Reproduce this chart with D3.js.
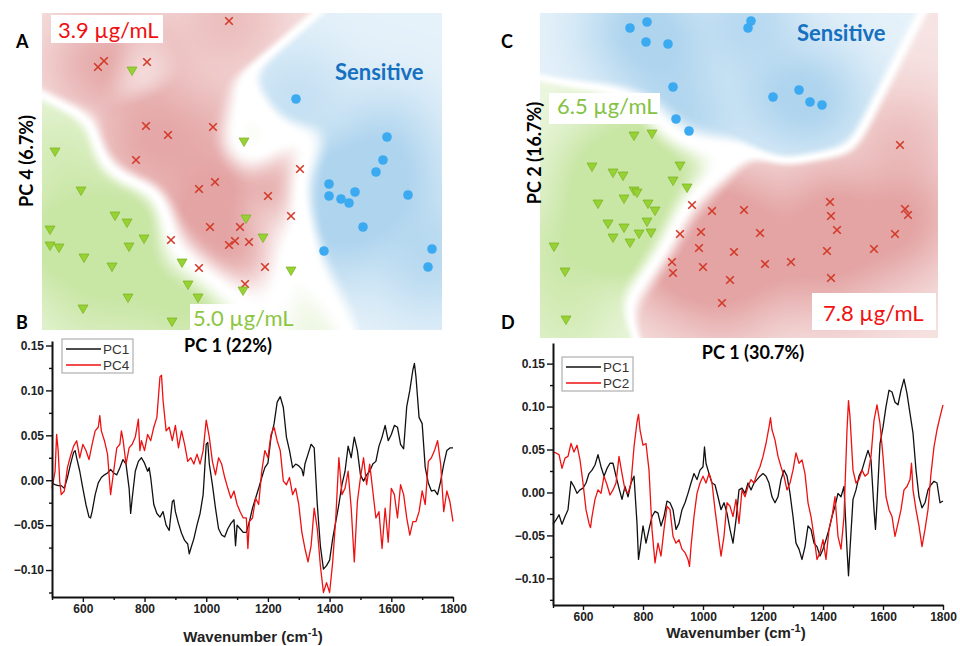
<!DOCTYPE html>
<html>
<head>
<meta charset="utf-8">
<script src="https://cdn.jsdelivr.net/npm/d3@7"></script>
<style>
  body { margin: 0; background: #fff; }
  svg  { display: block; }
</style>
</head>
<body>
<div id="chart"></div>
<script>
// ---- PCA score plots (arbitrary score units) ----
// panel A: PC1 vs PC4
const A_RES_39  = [[187,309],[56,263],[62,269],[105,268],[104,204],[171,203],[126,195],[94,170],[258,161],[157,141],[173,148],[226,134],[249,114],[168,103],[198,103],[129,90],[187,85],[193,89],[207,88],[157,62],[223,63],[203,46]];
const A_RES_50  = [[90,259],[202,188],[13,178],[39,139],[73,114],[85,107],[8,100],[8,84],[17,82],[87,83],[102,91],[204,111],[221,92],[42,72],[70,63],[140,67],[249,59],[146,45],[156,32],[201,39],[86,32],[41,21],[130,8]];
const A_SENS    = [[254,231],[345,193],[341,170],[334,158],[287,146],[287,134],[299,131],[307,127],[313,138],[366,135],[321,103],[282,79],[390,81],[386,63]];
// panel C: PC1 vs PC2
const C_SENS    = [[90,310],[107,316],[106,296],[128,294],[211,317],[208,310],[133,251],[136,219],[149,207],[233,241],[259,248],[270,236],[282,233]];
const C_RES_65  = [[94,202],[112,204],[52,171],[73,165],[83,162],[140,172],[133,157],[147,150],[94,147],[97,145],[84,139],[58,134],[108,134],[115,127],[68,114],[84,110],[107,116],[111,105],[73,100],[99,104],[90,95],[14,91],[25,66],[26,18]];
const C_RES_78  = [[360,193],[152,133],[172,127],[204,128],[290,136],[291,122],[365,129],[368,123],[140,104],[161,106],[220,105],[297,108],[355,104],[159,90],[194,86],[287,87],[334,89],[132,76],[133,65],[163,71],[225,74],[251,76],[291,60],[190,58],[182,35]];

// ---- loading spectra [wavenumber, loading] ----
const B_PC1 = [[500,-0.003],[510,-0.005],[520,-0.006],[530,-0.006],[540,-0.009],[550,0.003],[560,0.018],[570,0.031],[575,0.033],[580,0.025],[590,0.010],[600,-0.009],[610,-0.027],[620,-0.041],[625,-0.042],[630,-0.035],[640,-0.016],[650,-0.003],[660,0.003],[670,0.006],[680,0.008],[690,0.012],[700,0.008],[710,0.006],[720,0.014],[730,0.023],[740,0.018],[750,-0.009],[755,-0.037],[760,-0.020],[770,0.010],[780,0.021],[790,0.025],[800,0.019],[810,0.010],[815,0.014],[820,0.003],[830,-0.027],[840,-0.037],[850,-0.041],[860,-0.035],[870,-0.050],[880,-0.056],[890,-0.024],[895,-0.022],[900,-0.035],[910,-0.048],[920,-0.059],[930,-0.067],[940,-0.071],[945,-0.082],[950,-0.076],[960,-0.065],[970,-0.050],[980,-0.037],[990,-0.016],[1000,0.040],[1005,0.042],[1010,0.018],[1020,-0.005],[1030,-0.031],[1040,-0.054],[1050,-0.061],[1060,-0.063],[1070,-0.054],[1080,-0.048],[1090,-0.044],[1095,-0.073],[1100,-0.050],[1110,-0.054],[1120,-0.058],[1130,-0.058],[1140,-0.046],[1150,-0.031],[1160,-0.020],[1170,-0.009],[1180,0.003],[1190,0.014],[1200,0.019],[1210,0.048],[1220,0.063],[1230,0.087],[1240,0.093],[1250,0.081],[1260,0.048],[1270,0.033],[1280,0.014],[1290,0.018],[1300,0.016],[1310,0.012],[1315,0.005],[1320,0.018],[1330,0.029],[1340,0.040],[1350,0.036],[1360,-0.027],[1370,-0.073],[1380,-0.099],[1390,-0.095],[1400,-0.089],[1410,-0.065],[1420,-0.046],[1430,-0.027],[1440,-0.005],[1450,0.010],[1460,0.038],[1470,0.025],[1480,0.048],[1490,0.033],[1500,0.006],[1510,-0.001],[1520,0.006],[1530,0.010],[1540,0.018],[1550,0.021],[1560,0.038],[1570,0.048],[1580,0.061],[1590,0.044],[1600,0.051],[1610,0.061],[1620,0.059],[1630,0.040],[1640,0.035],[1650,0.082],[1660,0.100],[1670,0.123],[1675,0.130],[1680,0.115],[1690,0.070],[1700,0.063],[1710,0.014],[1720,-0.003],[1730,-0.012],[1740,-0.011],[1750,-0.016],[1760,-0.001],[1770,0.018],[1780,0.033],[1790,0.036],[1800,0.036]];
const B_PC4 = [[500,-0.009],[510,0.010],[515,0.051],[520,0.033],[525,-0.001],[530,-0.016],[540,-0.012],[550,0.014],[560,0.027],[570,0.038],[580,0.044],[590,0.025],[600,0.040],[610,0.033],[620,0.023],[630,0.040],[640,0.055],[650,0.059],[655,0.072],[660,0.055],[670,0.044],[680,0.029],[690,-0.016],[700,0.010],[710,0.036],[720,0.040],[725,0.055],[730,0.046],[740,0.018],[750,0.036],[760,0.040],[770,0.048],[780,0.068],[785,0.033],[790,0.044],[800,0.033],[810,0.051],[820,0.044],[830,0.059],[840,0.070],[850,0.115],[855,0.117],[860,0.089],[870,0.055],[880,0.059],[890,0.044],[900,0.061],[910,0.036],[920,0.055],[930,0.040],[940,0.021],[950,0.025],[960,0.018],[970,0.029],[980,0.018],[990,0.033],[1000,0.067],[1010,0.048],[1020,0.021],[1030,0.006],[1040,0.025],[1050,0.018],[1060,0.003],[1070,-0.009],[1080,-0.020],[1090,-0.012],[1100,-0.027],[1110,-0.035],[1120,-0.042],[1130,-0.042],[1135,-0.076],[1140,-0.046],[1150,-0.042],[1160,-0.020],[1170,-0.027],[1180,0.010],[1190,0.033],[1200,0.025],[1210,0.051],[1220,0.059],[1230,0.044],[1240,0.033],[1250,-0.001],[1260,-0.005],[1270,0.003],[1280,-0.016],[1290,-0.009],[1300,-0.027],[1310,-0.058],[1320,-0.076],[1330,-0.091],[1340,-0.073],[1350,-0.031],[1360,-0.054],[1370,-0.095],[1380,-0.125],[1390,-0.114],[1400,-0.125],[1410,-0.091],[1420,-0.042],[1430,0.025],[1440,-0.016],[1450,-0.009],[1460,0.010],[1470,-0.031],[1480,-0.091],[1490,-0.024],[1500,0.003],[1510,0.025],[1520,-0.005],[1530,0.018],[1540,-0.012],[1550,-0.042],[1560,-0.035],[1570,-0.076],[1580,-0.031],[1590,-0.069],[1600,-0.009],[1610,-0.016],[1620,-0.042],[1630,-0.005],[1640,-0.016],[1650,-0.042],[1660,-0.061],[1670,-0.046],[1680,-0.046],[1690,-0.035],[1700,-0.012],[1710,-0.027],[1720,0.021],[1730,0.025],[1740,0.033],[1750,0.044],[1760,0.018],[1770,-0.035],[1780,-0.012],[1790,-0.024],[1800,-0.046]];
const D_PC1 = [[500,-0.037],[510,-0.032],[520,-0.026],[530,-0.037],[540,-0.028],[550,-0.020],[560,0.013],[570,0.007],[580,-0.001],[590,0.003],[600,0.005],[610,0.011],[620,0.022],[630,0.026],[640,0.032],[650,0.044],[660,0.030],[670,0.019],[680,0.028],[690,0.034],[700,0.034],[710,0.019],[720,0.005],[730,-0.008],[740,0.007],[750,-0.005],[760,0.011],[770,0.019],[780,-0.036],[785,-0.078],[790,-0.066],[800,-0.039],[810,-0.059],[820,-0.043],[830,-0.028],[840,-0.022],[850,-0.024],[860,-0.039],[870,-0.028],[880,-0.010],[890,-0.012],[900,-0.020],[910,-0.043],[920,-0.036],[930,-0.020],[940,-0.012],[950,-0.001],[960,0.011],[970,0.022],[980,0.015],[990,0.026],[1000,0.030],[1005,0.053],[1010,0.034],[1020,0.022],[1030,0.011],[1040,0.009],[1050,-0.005],[1060,-0.020],[1070,-0.012],[1080,-0.024],[1090,-0.043],[1100,-0.059],[1110,-0.032],[1120,0.003],[1130,0.005],[1140,-0.001],[1150,0.011],[1160,0.003],[1170,0.011],[1180,0.015],[1190,0.019],[1200,0.022],[1210,0.019],[1220,0.011],[1230,-0.005],[1240,-0.012],[1250,-0.005],[1260,0.015],[1270,0.026],[1280,0.019],[1290,-0.001],[1300,-0.028],[1310,-0.059],[1320,-0.066],[1330,-0.078],[1340,-0.063],[1350,-0.039],[1360,-0.043],[1370,-0.059],[1380,-0.063],[1390,-0.074],[1400,-0.066],[1410,-0.055],[1420,-0.043],[1430,-0.028],[1440,-0.016],[1450,-0.001],[1460,-0.005],[1470,0.007],[1480,-0.066],[1485,-0.097],[1490,-0.066],[1500,-0.008],[1510,0.003],[1520,0.019],[1530,0.026],[1540,0.038],[1550,0.049],[1560,0.038],[1570,-0.020],[1575,-0.043],[1580,-0.012],[1590,0.057],[1600,0.076],[1610,0.100],[1620,0.119],[1630,0.117],[1640,0.105],[1650,0.102],[1660,0.119],[1670,0.132],[1680,0.115],[1690,0.092],[1700,0.069],[1710,0.026],[1720,-0.005],[1730,-0.018],[1740,-0.012],[1750,0.003],[1760,0.009],[1770,0.013],[1780,0.011],[1790,-0.012],[1800,-0.010]];
const D_PC2 = [[500,0.047],[510,0.046],[520,0.044],[530,0.028],[540,0.040],[550,0.042],[560,0.057],[570,0.047],[580,0.055],[590,0.038],[600,0.011],[610,-0.020],[620,-0.036],[625,-0.041],[630,-0.028],[640,-0.008],[650,0.003],[660,-0.001],[670,0.019],[680,0.009],[690,-0.003],[700,0.003],[710,0.011],[720,0.042],[730,0.022],[740,0.003],[750,-0.001],[760,0.011],[770,0.053],[780,0.082],[785,0.091],[790,0.073],[800,0.055],[810,0.057],[820,0.026],[830,-0.043],[840,-0.082],[850,-0.059],[860,-0.074],[870,-0.043],[880,-0.016],[890,-0.020],[900,-0.051],[910,-0.059],[920,-0.055],[930,-0.066],[940,-0.070],[950,-0.078],[955,-0.086],[960,-0.063],[970,-0.028],[980,-0.001],[990,0.011],[1000,0.019],[1010,0.011],[1020,0.022],[1030,0.011],[1040,-0.020],[1050,-0.047],[1060,-0.074],[1070,-0.051],[1080,-0.012],[1090,-0.016],[1100,-0.028],[1110,-0.008],[1120,-0.036],[1130,0.003],[1140,-0.005],[1150,0.007],[1160,0.015],[1170,0.011],[1180,0.022],[1190,0.030],[1200,0.042],[1210,0.057],[1220,0.076],[1225,0.087],[1230,0.073],[1240,0.061],[1250,0.042],[1260,0.030],[1270,0.019],[1280,0.003],[1290,0.011],[1300,0.026],[1310,0.046],[1320,0.034],[1330,0.038],[1340,0.022],[1350,-0.012],[1360,-0.028],[1370,-0.051],[1380,-0.078],[1390,-0.070],[1400,-0.055],[1410,-0.078],[1420,-0.043],[1430,-0.028],[1440,-0.005],[1450,-0.051],[1460,-0.066],[1470,-0.028],[1480,0.073],[1485,0.107],[1490,0.088],[1500,0.026],[1510,0.011],[1520,0.015],[1530,0.026],[1540,0.019],[1550,0.022],[1560,0.042],[1570,0.084],[1580,0.102],[1590,0.080],[1600,0.042],[1610,-0.005],[1620,-0.020],[1630,-0.028],[1640,-0.051],[1650,-0.036],[1660,-0.020],[1670,0.003],[1680,0.007],[1690,0.015],[1695,0.034],[1700,0.003],[1710,-0.020],[1720,-0.039],[1730,-0.063],[1740,-0.043],[1750,-0.020],[1760,0.022],[1770,0.053],[1780,0.073],[1790,0.088],[1800,0.102]];

const X_TICKS       = [600, 800, 1000, 1200, 1400, 1600, 1800];
const X_MINOR       = [500, 700, 900, 1100, 1300, 1500, 1700];
const Y_TICKS       = [-0.10, -0.05, 0.00, 0.05, 0.10, 0.15];
const Y_MINOR       = [-0.125, -0.075, -0.025, 0.025, 0.075, 0.125];

const C_RED   = [228, 164, 164];
const C_GREEN = [200, 230, 164];
const C_BLUE  = [174, 212, 238];

const FONT_LBL = 'Lato, "Open Sans", sans-serif';
const FONT_AX  = '"Liberation Sans", Arial, sans-serif';

const svg = d3.select('#chart').append('svg')
    .attr('width', 960).attr('height', 646)
    .style('background', '#fff');

// ---------------- score plots ----------------
function scorePlot(cfg) {
    const w = cfg.box[2], h = cfg.box[3];
    const g = svg.append('g').attr('transform', `translate(${cfg.box[0]},${cfg.box[1]})`);
    const x = d3.scaleLinear().domain(cfg.xDomain).range([0, w]);
    const y = d3.scaleLinear().domain(cfg.yDomain).range([h, 0]);

    drawRegions(g, cfg.groups, x, y, w, h);

    cfg.groups.forEach(gr => {
        const sel = g.append('g').selectAll('g').data(gr.data).enter().append('g')
            .attr('transform', d => `translate(${x(d[0])},${y(d[1])})`);
        if (gr.shape === 'cross') {
            sel.append('path').attr('d', 'M-3.8,-3.8L3.8,3.8M3.8,-3.8L-3.8,3.8')
                .attr('stroke', '#d23a2a').attr('stroke-width', 1.6).attr('fill', 'none');
        } else if (gr.shape === 'tri') {
            sel.append('path').attr('d', 'M-5,-4L5,-4L0,4.6Z')
                .attr('fill', '#97d234').attr('stroke', '#79b020').attr('stroke-width', 0.7);
        } else {
            sel.append('circle').attr('r', 4.8).attr('fill', '#3caaf0');
        }
    });
    return g;
}

// soft class map: kernel-weighted class share sets hue, local density sets depth
function drawRegions(g, groups, x, y, w, h) {
    const S  = 2;
    const cw = Math.ceil(w / S), ch = Math.ceil(h / S);
    const canvas = document.createElement('canvas');
    canvas.width = cw; canvas.height = ch;
    const ctx = canvas.getContext('2d');
    const img = ctx.createImageData(cw, ch);
    const pts = groups.map(gr => gr.data.map(d => [x(d[0]), y(d[1])]));
    const sw2 = 2 * 27 * 27, sn2 = 2 * 30 * 30;

    for (let j = 0; j < ch; j++) {
        for (let i = 0; i < cw; i++) {
            const px = i * S + S / 2, py = j * S + S / 2;
            const lse = [], dens = [];
            pts.forEach(arr => {
                const e = arr.map(p => -((p[0] - px) ** 2 + (p[1] - py) ** 2) / sw2);
                const m = d3.max(e);
                lse.push(m + Math.log(d3.sum(e, v => Math.exp(v - m))));
                dens.push(d3.sum(e, v => Math.exp(v * sw2 / sn2)));
            });
            const win = d3.maxIndex(lse);
            const p = 1 / d3.sum(lse, v => Math.exp(v - lse[win]));
            let edge = Math.max(0, Math.min(1, (p - 0.5) / 0.3));
            edge = edge * edge * (3 - 2 * edge);
            const t = edge * (0.3 + 0.7 * Math.min(1, Math.sqrt(dens[win] / 3)));
            const col = groups[win].bg;
            const k = (j * cw + i) * 4;
            img.data[k]     = 255 + (col[0] - 255) * t;
            img.data[k + 1] = 255 + (col[1] - 255) * t;
            img.data[k + 2] = 255 + (col[2] - 255) * t;
            img.data[k + 3] = 255;
        }
    }
    ctx.putImageData(img, 0, 0);
    g.append('image').attr('href', canvas.toDataURL())
        .attr('width', w).attr('height', h).attr('preserveAspectRatio', 'none');
}

function boxedLabel(txt, x, yb, color, box) {
    if (box) svg.append('rect').attr('x', box[0]).attr('y', box[1])
        .attr('width', box[2]).attr('height', box[3]).attr('fill', '#fff');
    svg.append('text').attr('x', x).attr('y', yb).attr('fill', color)
        .style('font-family', FONT_LBL).style('font-size', '22px').text(txt);
}

function text(txt, x, y, opts) {
    const t = svg.append('text').attr('x', x).attr('y', y)
        .attr('text-anchor', opts.anchor || 'start')
        .attr('fill', opts.fill || '#000')
        .style('font-family', opts.font || FONT_LBL)
        .style('font-size', opts.size + 'px')
        .style('font-weight', opts.weight || 'normal')
        .text(txt);
    if (opts.rotate) t.attr('transform', `rotate(-90,${x},${y})`);
    return t;
}

scorePlot({
    box: [42, 13, 400, 317], xDomain: [0, 400], yDomain: [0, 317],
    groups: [
        { data: A_RES_39, shape: 'cross', bg: C_RED },
        { data: A_RES_50, shape: 'tri',   bg: C_GREEN },
        { data: A_SENS,   shape: 'dot',   bg: C_BLUE }
    ]
});
scorePlot({
    box: [540, 13, 398, 325], xDomain: [0, 398], yDomain: [0, 325],
    groups: [
        { data: C_RES_78, shape: 'cross', bg: C_RED },
        { data: C_RES_65, shape: 'tri',   bg: C_GREEN },
        { data: C_SENS,   shape: 'dot',   bg: C_BLUE }
    ]
});

boxedLabel('3.9 µg/mL', 58, 38, '#f01010', [51, 15, 112, 28]);
boxedLabel('5.0 µg/mL', 193, 326, '#8cc63f', [190, 304, 87, 26]);
text('Sensitive', 335, 80, { size: 22, weight: 'bold', fill: '#1670c0' });
boxedLabel('6.5 µg/mL', 557, 114, '#84c245', [549, 93, 111, 31]);
boxedLabel('7.8 µg/mL', 823, 321, '#f01010', [812, 293, 124, 37]);
text('Sensitive', 797, 41, { size: 22, weight: 'bold', fill: '#1670c0' });

text('A', 16, 48, { size: 18, weight: 'bold' });
text('B', 16, 329, { size: 18, weight: 'bold' });
text('C', 501, 48, { size: 18, weight: 'bold' });
text('D', 501, 329, { size: 18, weight: 'bold' });

text('PC 4 (6.7%)', 33, 161, { size: 18, weight: 'bold', anchor: 'middle', rotate: true });
text('PC 2 (16.7%)', 541, 153, { size: 18, weight: 'bold', anchor: 'middle', rotate: true });

// ---------------- loading spectra ----------------
function spectrumPlot(cfg) {
    const [left, top, right, bottom] = cfg.box;
    const x = d3.scaleLinear().domain([500, 1800]).range([left, right]);
    const y = d3.scaleLinear().domain(cfg.yDomain).range([bottom, top]);
    const g = svg.append('g');

    const line = d3.line().x(d => x(d[0])).y(d => y(d[1]));
    cfg.series.forEach(s => {
        g.append('path').datum(s.data).attr('d', line)
            .attr('fill', 'none').attr('stroke', s.color).attr('stroke-width', 1.3)
            .attr('stroke-linejoin', 'round');
    });

    const yAx = g.append('g').attr('transform', `translate(${left},0)`)
        .call(d3.axisLeft(y).tickValues(Y_TICKS).tickFormat(d3.format('.2f')).tickSize(6).tickSizeOuter(0));
    g.append('g').attr('transform', `translate(${left},0)`)
        .call(d3.axisLeft(y).tickValues(Y_MINOR).tickFormat('').tickSize(3).tickSizeOuter(0))
        .select('.domain').remove();
    const xAx = g.append('g').attr('transform', `translate(0,${bottom})`)
        .call(d3.axisBottom(x).tickValues(X_TICKS).tickFormat(d3.format('d')).tickSize(5).tickSizeOuter(0));
    g.append('g').attr('transform', `translate(0,${bottom})`)
        .call(d3.axisBottom(x).tickValues(X_MINOR).tickFormat('').tickSize(3).tickSizeOuter(0))
        .select('.domain').remove();

    g.selectAll('.domain').attr('stroke', '#111').attr('stroke-width', 2);
    g.selectAll('.tick line').attr('stroke', '#111').attr('stroke-width', 1.4);
    g.selectAll('.tick text').attr('fill', '#222')
        .style('font-family', FONT_AX).style('font-size', '12px').style('font-weight', 'bold');
    yAx.selectAll('.tick text').attr('x', -8);
    xAx.selectAll('.tick text').attr('y', 7);

    const t = g.append('text').attr('x', cfg.titleX).attr('y', cfg.titleY)
        .attr('text-anchor', 'middle').attr('fill', '#222')
        .style('font-family', FONT_AX).style('font-size', '15px').style('font-weight', 'bold');
    t.append('tspan').text('Wavenumber (cm');
    t.append('tspan').attr('dy', -6).style('font-size', '11px').text('-1');
    t.append('tspan').attr('dy', 6).text(')');

    const lg = g.append('g').attr('transform', `translate(${cfg.legend[0]},${cfg.legend[1]})`);
    lg.append('rect').attr('width', 71).attr('height', 34)
        .attr('fill', '#fff').attr('stroke', '#b0b0b0').attr('stroke-width', 1.2);
    cfg.series.forEach((s, i) => {
        lg.append('line').attr('x1', 4).attr('x2', 39).attr('y1', 10 + i * 16).attr('y2', 10 + i * 16)
            .attr('stroke', s.color).attr('stroke-width', 1.6);
        lg.append('text').attr('x', 41).attr('y', 15 + i * 16).attr('fill', '#333')
            .style('font-family', FONT_AX).style('font-size', '13.5px').text(s.name);
    });
}

spectrumPlot({
    box: [52, 341, 453, 597], yDomain: [-0.13, 0.155],
    series: [{ name: 'PC1', data: B_PC1, color: '#111' }, { name: 'PC4', data: B_PC4, color: '#ee1111' }],
    titleX: 253, titleY: 642, legend: [62, 339]
});
spectrumPlot({
    box: [553, 343, 943, 605], yDomain: [-0.131, 0.174],
    series: [{ name: 'PC1', data: D_PC1, color: '#111' }, { name: 'PC2', data: D_PC2, color: '#ee1111' }],
    titleX: 736, titleY: 638, legend: [562, 357]
});

text('PC 1 (22%)', 228, 352, { size: 18, weight: 'bold', anchor: 'middle' });
text('PC 1 (30.7%)', 753, 359, { size: 18, weight: 'bold', anchor: 'middle' });
</script>
</body>
</html>
